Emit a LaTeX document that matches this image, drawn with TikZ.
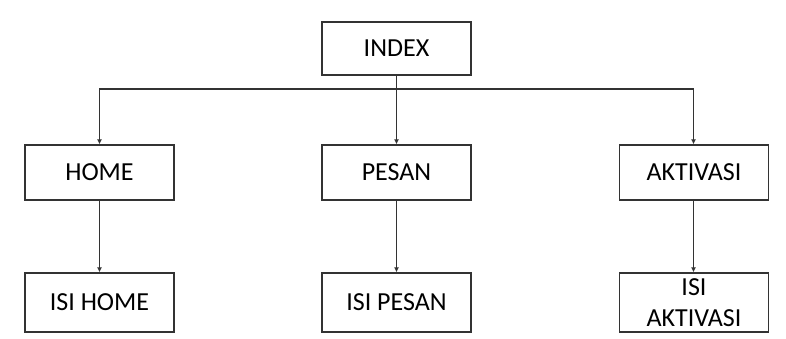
\documentclass[tikz,border=0pt]{standalone}
\usepackage{fontspec}
\setmainfont{Carlito}
\usetikzlibrary{arrows.meta}
\begin{document}
\begin{tikzpicture}[x=1pt,y=-1pt,
  box/.style={draw=black!80,line width=1.3pt,minimum width=149pt,minimum height=82pt,inner sep=0pt,font=\fontsize{26}{31}\selectfont,align=center},
  lowbox/.style={box,minimum height=59pt},
  conn/.style={draw=black!80,line width=1.2pt},
  arr/.style={conn,-{Latex[length=5pt,width=5pt]}}]
\useasboundingbox (0,0) rectangle (786,338);
\node[box,minimum height=53pt] (index) at (396.5,48.5) {INDEX};
\node[box,minimum height=55pt] (home) at (99.5,172.5) {HOME};
\node[box,minimum height=55pt] (pesan) at (396.5,172.5) {PESAN};
\node[box,minimum height=55pt] (aktivasi) at (694,172.5) {AKTIVASI};
\node[lowbox] (isihome) at (99.5,302.5) {ISI HOME};
\node[lowbox] (isipesan) at (396.5,302.5) {ISI PESAN};
\node[lowbox,font=\fontsize{26}{31}\selectfont] (isiaktivasi) at (694,302.5) {ISI\\AKTIVASI};
\coordinate (bar) at (396.5,89);
\draw[arr] (index.south) -- (pesan.north);
\draw[arr] (bar) -| (home.north);
\draw[arr] (bar) -| ([xshift=-0.5pt]aktivasi.north);
\draw[arr] (home.south) -- (isihome.north);
\draw[arr] (pesan.south) -- (isipesan.north);
\draw[arr] ([xshift=-0.5pt]aktivasi.south) -- ([xshift=-0.5pt]isiaktivasi.north);
\end{tikzpicture}
\end{document}
